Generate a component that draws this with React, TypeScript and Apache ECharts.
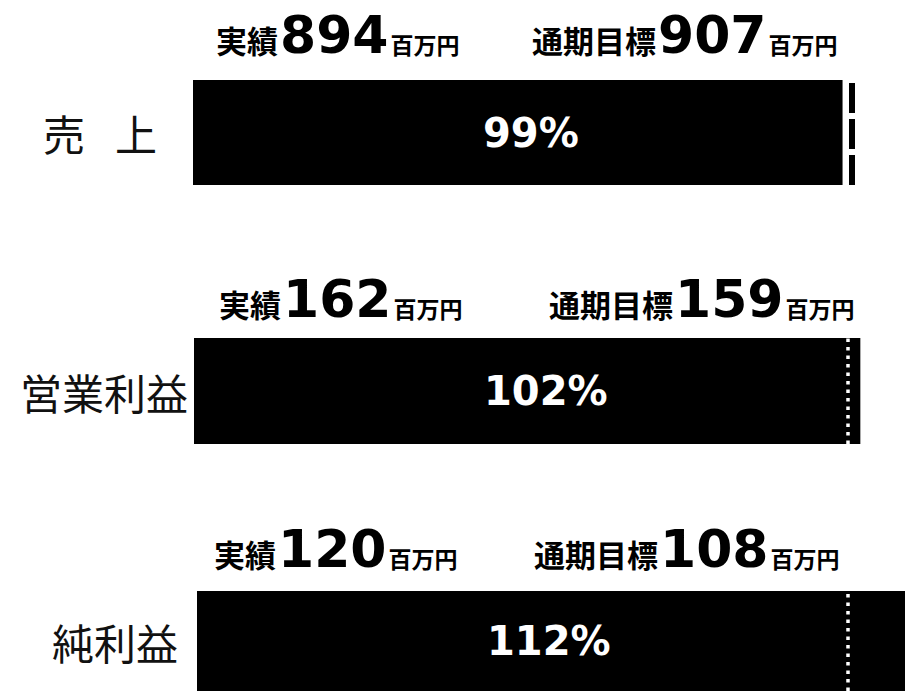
import React, { useEffect, useRef } from "react";
import * as echarts from "echarts";

// ---- data ----
const categories = ["売 上", "営業利益", "純利益"];
const actuals = [894, 162, 120];
const targets = [907, 159, 108];
const rates = [99, 102, 112];
const actualLabel = "実績";
const targetLabel = "通期目標";
const unit = "百万円";

// ---- layout (positions only) ----
const rows = [
  { left: 193, top: 80, width: 659, height: 105, labelMargin: 36, hx1: 216, hx2: 532, hy: 61 },
  { left: 194, top: 338, width: 654, height: 106, labelMargin: 6, hx1: 219, hx2: 549, hy: 325 },
  { left: 197, top: 591, width: 651, height: 105, labelMargin: 19, hx1: 214, hx2: 534, hy: 575 },
];
const lineStyles = [
  { color: "#000", width: 6, type: [30, 6] as number[] },
  { color: "#fff", width: 3.5, type: [3.5, 5] as number[] },
  { color: "#fff", width: 3.5, type: [3.5, 5] as number[] },
];

const CJK = "'Noto Sans CJK JP', sans-serif";
const NUM = "'DejaVu Sans', sans-serif";

const headRich = {
  a: { fontSize: 31, fontWeight: "bold" as const, fontFamily: CJK, color: "#000", verticalAlign: "bottom" as const, lineHeight: 40, padding: [0, 0, 6, 0] },
  b: { fontSize: 52, fontWeight: "bold" as const, fontFamily: NUM, color: "#000", verticalAlign: "bottom" as const, lineHeight: 60, padding: [0, 2, 0, 2] },
  c: { fontSize: 23, fontWeight: "bold" as const, fontFamily: CJK, color: "#000", verticalAlign: "bottom" as const, lineHeight: 32, padding: [0, 0, 6, 0] },
};

export default function App() {
  const ref = useRef<HTMLDivElement>(null);
  useEffect(() => {
    if (!ref.current) return;
    const chart = echarts.init(ref.current, null, { renderer: "svg" });
    const option: any = {
      animation: false,
      backgroundColor: "#fff",
      grid: rows.map((r) => ({ left: r.left, top: r.top, width: r.width, height: r.height })),
      xAxis: rows.map((_, i) => ({ gridIndex: i, type: "value", min: 0, max: 100, show: false })),
      yAxis: rows.map((r, i) => ({
        gridIndex: i,
        type: "category",
        data: [categories[i]],
        axisLine: { show: false },
        axisTick: { show: false },
        splitLine: { show: false },
        axisLabel: {
          margin: r.labelMargin,
          fontSize: 42,
          color: "#111",
          fontFamily: CJK,
          formatter: (v: string) => v.split(" ").join("{s| }"),
          rich: { s: { width: 30, fontSize: 42 } },
        },
      })),
      series: rows.map((_, i) => ({
        type: "bar",
        xAxisIndex: i,
        yAxisIndex: i,
        data: [(actuals[i] / targets[i]) * 100],
        barWidth: "100%",
        clip: false,
        itemStyle: { color: "#000" },
        label: {
          show: true,
          position: [290, "50%"],
          align: "left",
          verticalAlign: "middle",
          formatter: `${rates[i]}%`,
          color: "#fff",
          fontSize: 40,
          fontWeight: "bold",
          fontFamily: NUM,
        },
        markLine: {
          silent: true,
          symbol: "none",
          label: { show: false },
          data: [{ xAxis: 100 }],
          lineStyle: lineStyles[i],
        },
      })),
      graphic: rows.flatMap((r, i) => [
        {
          type: "text",
          x: r.hx1,
          y: r.hy,
          style: {
            text: `{a|${actualLabel}}{b|${actuals[i]}}{c|${unit}}`,
            rich: headRich,
            verticalAlign: "bottom",
            align: "left",
          },
        },
        {
          type: "text",
          x: r.hx2,
          y: r.hy,
          style: {
            text: `{a|${targetLabel}}{b|${targets[i]}}{c|${unit}}`,
            rich: headRich,
            verticalAlign: "bottom",
            align: "left",
          },
        },
      ]),
    };
    chart.setOption(option);
    return () => chart.dispose();
  }, []);
  return (
    <div
      ref={ref}
      style={{ position: "absolute", left: 0, top: 0, width: 905, height: 691, background: "#fff" }}
    />
  );
}
